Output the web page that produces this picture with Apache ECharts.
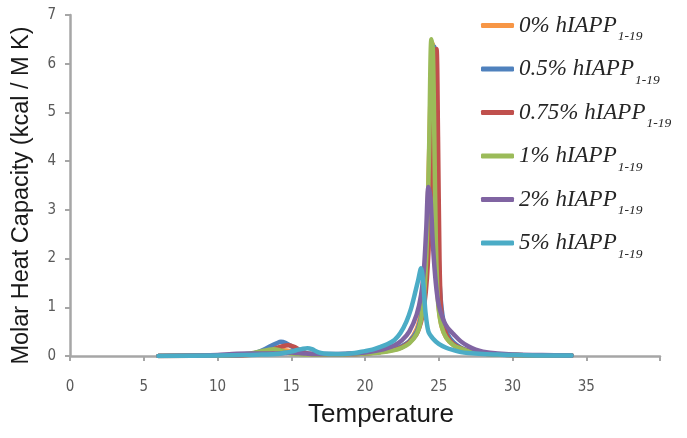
<!DOCTYPE html>
<html>
<head>
<meta charset="utf-8">
<script src="https://cdn.jsdelivr.net/npm/echarts@6/dist/echarts.min.js"></script>
<style>html,body{margin:0;padding:0;background:#fff}#c{width:687px;height:438px}</style>
</head>
<body>
<div id="c"></div>
<script>
var seriesNames = ['0% hIAPP', '0.5% hIAPP', '0.75% hIAPP', '1% hIAPP', '2% hIAPP', '5% hIAPP'];
var colors = ['#F79646', '#4F81BD', '#C0504D', '#9BBB59', '#8064A2', '#4BACC6'];
var xTicks = [0, 5, 10, 15, 20, 25, 30, 35];
var yTicks = [0, 1, 2, 3, 4, 5, 6, 7];

var t0 = [6,10,12,13,13.5,14,14.5,15,15.5,16,17,18,19,20,21,22,22.5,23,23.5,23.8,24.0,24.2,24.35,24.5,24.6,24.7,24.8,24.9,25.0,25.2,25.5,26,26.5,27,28,29,30,32,34];
var y0 = [0,0.01,0.02,0.04,0.07,0.1,0.12,0.1,0.06,0.04,0.03,0.03,0.04,0.05,0.08,0.14,0.2,0.3,0.55,0.9,1.4,2.5,4.2,6.0,6.4,5.2,3.0,1.6,1.0,0.6,0.38,0.22,0.15,0.1,0.05,0.03,0.02,0.01,0.01];

var t1 = [6,10,11,12,12.5,13,13.5,14,14.3,14.6,15,15.5,16,16.5,17,18,19,20,21,22,22.5,23,23.5,23.8,24.0,24.2,24.4,24.55,24.7,24.8,24.9,25.0,25.1,25.3,25.6,26,26.5,27,28,29,30,32,34];
var y1 = [0,0.01,0.01,0.03,0.06,0.11,0.19,0.26,0.29,0.27,0.2,0.11,0.06,0.04,0.03,0.03,0.04,0.05,0.08,0.14,0.2,0.3,0.5,0.8,1.2,2.0,3.5,5.2,6.35,5.5,3.5,2.0,1.3,0.75,0.45,0.28,0.17,0.11,0.06,0.03,0.02,0.01,0.01];

var t2 = [6,10,12,13,13.5,14,14.4,14.8,15.2,15.6,16,16.5,17,18,19,20,21,22,22.5,23,23.5,23.8,24.0,24.2,24.4,24.6,24.75,24.85,24.95,25.05,25.15,25.3,25.5,25.8,26.2,26.7,27.2,28,29,30,32,34];
var y2 = [0,0.01,0.02,0.05,0.1,0.16,0.2,0.22,0.19,0.12,0.06,0.04,0.03,0.03,0.04,0.05,0.08,0.13,0.18,0.28,0.45,0.7,1.0,1.6,2.8,4.6,6.1,6.3,4.5,2.0,1.0,0.65,0.45,0.3,0.2,0.13,0.09,0.05,0.03,0.02,0.01,0.01];

var t3 = [6,10,11,12,12.5,13,13.5,13.8,14.2,14.6,15,15.5,16,17,18,19,20,21,22,22.5,23,23.5,23.8,24.0,24.2,24.35,24.5,24.6,24.7,24.8,24.9,25.0,25.2,25.5,26,26.5,27,28,29,30,32,34];
var y3 = [0,0.01,0.02,0.04,0.07,0.1,0.13,0.14,0.12,0.08,0.05,0.04,0.03,0.03,0.03,0.04,0.05,0.07,0.12,0.17,0.26,0.45,0.75,1.2,2.4,4.3,6.5,6.3,4.5,2.4,1.4,0.95,0.6,0.38,0.22,0.15,0.1,0.05,0.03,0.02,0.01,0.01];

var t4 = [6,9,10,11,12,13,14,14.5,15,15.5,16,17,18,19,20,21,21.5,22,22.5,23,23.5,23.8,24.0,24.15,24.3,24.45,24.6,24.8,25.0,25.3,25.6,26,26.5,27,27.5,28,29,30,32,34];
var y4 = [0,0.01,0.02,0.04,0.05,0.05,0.05,0.06,0.07,0.06,0.05,0.04,0.04,0.05,0.07,0.12,0.16,0.22,0.32,0.5,0.85,1.25,1.8,2.6,3.47,3.2,2.3,1.5,1.05,0.75,0.58,0.45,0.3,0.2,0.13,0.09,0.05,0.03,0.02,0.01];

var t5 = [6,10,12,13,14,14.5,15,15.5,15.8,16.1,16.4,16.8,17.2,18,19,20,20.5,21,21.5,22,22.4,22.8,23.1,23.4,23.6,23.8,23.95,24.1,24.3,24.6,25,25.5,26,26.5,27,28,29,30,32,34];
var y5 = [0,0.01,0.02,0.03,0.04,0.06,0.09,0.13,0.15,0.16,0.14,0.08,0.05,0.04,0.05,0.1,0.13,0.18,0.24,0.33,0.47,0.7,0.95,1.3,1.55,1.8,1.5,0.9,0.5,0.36,0.25,0.17,0.12,0.08,0.06,0.04,0.03,0.02,0.01,0.01];

var temps = [t0, t1, t2, t3, t4, t5];
var vals = [y0, y1, y2, y3, y4, y5];

function pairs(t, y) { return t.map(function (v, i) { return [v, y[i]]; }); }

var series = seriesNames.map(function (n, i) {
  return {
    name: n, type: 'line', data: pairs(temps[i], vals[i]),
    showSymbol: false, symbol: 'none', smooth: 0.3,
    lineStyle: { width: 4.5, color: colors[i], cap: 'round', join: 'round' },
    itemStyle: { color: colors[i] }, z: 2 + i
  };
});

var narrow = '"Liberation Sans Narrow", "DejaVu Sans Condensed", sans-serif';

var chart = echarts.init(document.getElementById('c'));
chart.setOption({
  animation: false,
  backgroundColor: '#ffffff',
  grid: { left: 70, right: 27, top: 15, bottom: 82, containLabel: false },
  legend: {
    orient: 'vertical', left: 481, top: 14, padding: 0, itemWidth: 33, itemHeight: 5, itemGap: 14,
    icon: 'roundRect',
    data: seriesNames,
    formatter: function (name) { return '{m|' + name + '}{s|1-19}'; },
    textStyle: {
      rich: {
        m: { fontFamily: 'Liberation Serif', fontStyle: 'italic', fontSize: 23, color: '#262626', padding: [0, 1, 0, 0] },
        s: { fontFamily: 'Liberation Serif', fontStyle: 'italic', fontSize: 13.5, color: '#262626', padding: [22, 0, 0, 0] }
      }
    }
  },
  xAxis: {
    type: 'value', min: 0, max: 40, interval: 5,
    name: 'Temperature', nameLocation: 'middle', nameGap: 46,
    nameTextStyle: { fontFamily: 'Liberation Sans', fontSize: 26, color: '#1a1a1a', padding: [0, 0, 0, 32] },
    axisLine: { lineStyle: { color: '#a6a6a6', width: 2.5 } },
    axisTick: { show: true, length: 5, lineStyle: { color: '#a6a6a6', width: 2 } },
    axisLabel: {
      margin: 24, fontFamily: narrow, fontSize: 15, color: '#595959',
      formatter: function (v) { return xTicks.indexOf(v) >= 0 ? String(v) : ''; }
    },
    splitLine: { show: false }
  },
  yAxis: {
    type: 'value', min: 0, max: 7, interval: 1,
    name: 'Molar Heat Capacity (kcal / M K)', nameLocation: 'middle', nameGap: 36,
    nameTextStyle: { fontFamily: 'Liberation Sans', fontSize: 23.5, color: '#1a1a1a', padding: [0, 20, 0, 0] },
    axisLine: { show: true, lineStyle: { color: '#a6a6a6', width: 2.5 } },
    axisTick: { show: true, length: 5, lineStyle: { color: '#a6a6a6', width: 2 } },
    axisLabel: {
      margin: 14, fontFamily: narrow, fontSize: 15, color: '#595959',
      formatter: function (v) { return yTicks.indexOf(v) >= 0 ? String(v) : ''; }
    },
    splitLine: { show: false }
  },
  series: series
});
</script>
</body>
</html>
